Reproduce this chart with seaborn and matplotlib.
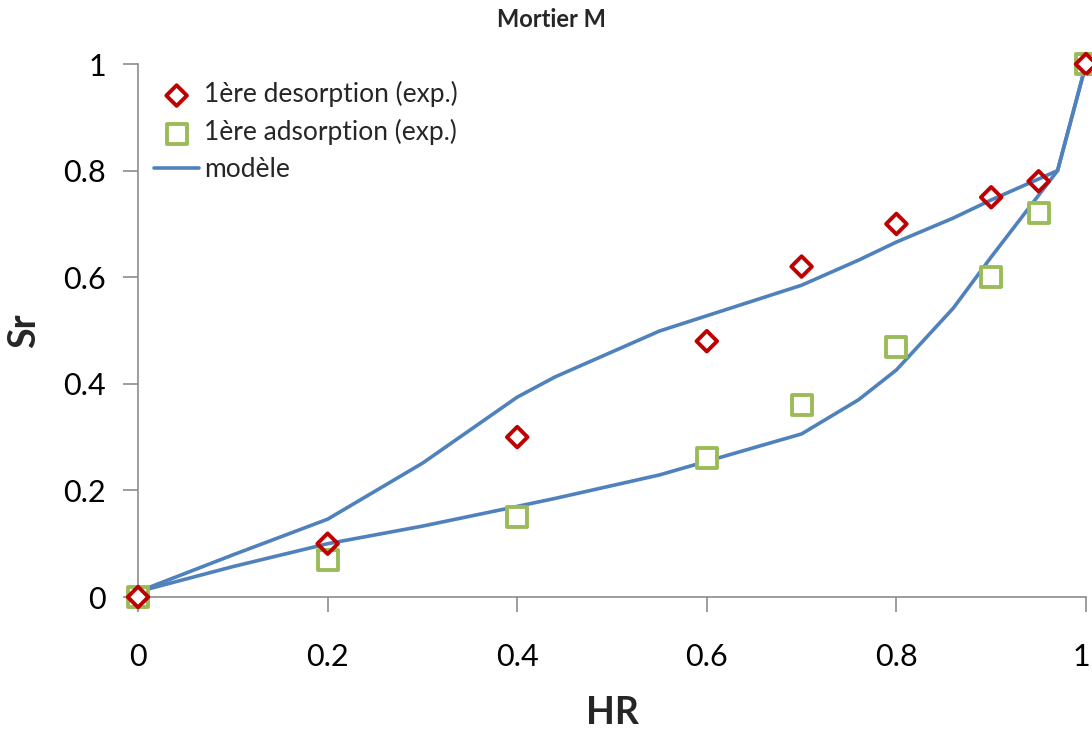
import matplotlib
matplotlib.use("Agg")
import matplotlib.pyplot as plt
import matplotlib.transforms as mtransforms
import seaborn as sns
import pandas as pd

# Experimental data
hr_exp = [0, 0.2, 0.4, 0.6, 0.7, 0.8, 0.9, 0.95, 1.0]
sr_desorption = [0, 0.10, 0.30, 0.48, 0.62, 0.70, 0.75, 0.78, 1.0]
sr_adsorption = [0, 0.07, 0.15, 0.26, 0.36, 0.47, 0.60, 0.72, 1.0]

# Model curves
hr_model = [0, 0.1, 0.2, 0.3, 0.4, 0.44, 0.55, 0.7, 0.76, 0.8, 0.86, 0.9, 0.97, 1.0]
sr_model_des = [0.01, 0.079, 0.146, 0.251, 0.375, 0.413, 0.499, 0.585, 0.632, 0.666, 0.711, 0.745, 0.80, 1.0]
sr_model_ads = [0.01, 0.057, 0.10, 0.133, 0.17, 0.185, 0.229, 0.306, 0.37, 0.426, 0.542, 0.638, 0.80, 1.0]

labels = ["1ère desorption (exp.)", "1ère adsorption (exp.)", "modèle"]
xticks = [0, 0.2, 0.4, 0.6, 0.8, 1.0]
xtick_labels = ["0", "0.2", "0.4", "0.6", "0.8", "1"]
yticks = [0, 0.2, 0.4, 0.6, 0.8, 1.0]
ytick_labels = ["0", "0.2", "0.4", "0.6", "0.8", "1"]

sns.set_style("white")
plt.rcParams["font.family"] = ["Lato", "DejaVu Sans"]

fig = plt.figure(figsize=(10.92, 7.31), dpi=100)
ax = fig.add_axes([0.1264, 0.1833, 0.8681, 0.7291])

blue = "#4F81BD"
red = "#C00000"
green = "#9BBB59"

df_des = pd.DataFrame({"HR": hr_model, "Sr": sr_model_des})
df_ads = pd.DataFrame({"HR": hr_model, "Sr": sr_model_ads})
sns.lineplot(data=df_des, x="HR", y="Sr", ax=ax, color=blue, lw=2.6, sort=False, label=labels[2], zorder=2)
sns.lineplot(data=df_ads, x="HR", y="Sr", ax=ax, color=blue, lw=2.6, sort=False, zorder=2)

df_exp = pd.DataFrame({"HR": hr_exp, "des": sr_desorption, "ads": sr_adsorption})
sns.scatterplot(data=df_exp, x="HR", y="ads", ax=ax, marker="s", s=200, facecolor="white",
                edgecolor=green, linewidth=2.8, label=labels[1], zorder=3, clip_on=False)
sns.scatterplot(data=df_exp, x="HR", y="des", ax=ax, marker="D", s=110, facecolor="none",
                edgecolor=red, linewidth=2.8, label=labels[0], zorder=4, clip_on=False)

ax.set_xlim(0, 1)
ax.set_ylim(0, 1)
ax.set_xticks(xticks)
ax.set_xticklabels(xtick_labels)
ax.set_yticks(yticks)
ax.set_yticklabels(ytick_labels)
ax.tick_params(axis="both", which="major", direction="out", length=11, width=1.2,
               color="#8C8C8C", labelsize=22, labelcolor="black", bottom=True, left=True)
ax.tick_params(axis="x", pad=22)
ax.tick_params(axis="y", pad=12)
for side in ["top", "right"]:
    ax.spines[side].set_visible(False)
for side in ["left", "bottom"]:
    ax.spines[side].set_color("#8C8C8C")
    ax.spines[side].set_linewidth(1.2)

# keep the last x tick label inside the figure
last = ax.get_xticklabels()[-1]
last.set_transform(last.get_transform() + mtransforms.ScaledTranslation(-5 / 100, 0, fig.dpi_scale_trans))

ax.set_xlabel("HR", fontsize=27, fontweight="bold", labelpad=18)
ax.set_ylabel("Sr", fontsize=27, fontweight="bold", labelpad=16)
fig.text(0.505, 0.974, "Mortier M", ha="center", va="center", fontsize=17, fontweight="bold")

handles, labs = ax.get_legend_handles_labels()
order = [labs.index(l) for l in labels]
ax.legend([handles[i] for i in order], [labs[i] for i in order], loc="upper left",
          bbox_to_anchor=(-0.008, 1.012), frameon=False, fontsize=19, handlelength=1.7,
          handletextpad=0.2, labelspacing=0.45)

fig.savefig("out.png", dpi=100)
